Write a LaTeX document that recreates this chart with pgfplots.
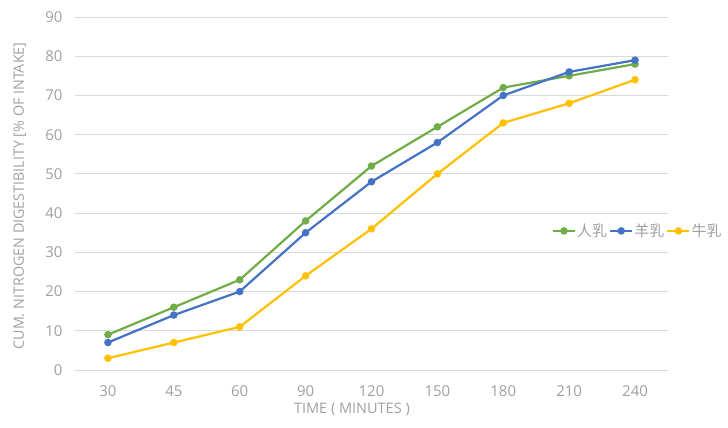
\documentclass[border=0pt]{standalone}
\usepackage{fontspec}
\setmainfont{Open Sans}
\newfontfamily\cjk{Noto Sans CJK SC}
\usepackage{pgfplots}
\pgfplotsset{compat=1.18}
\definecolor{cgreen}{HTML}{70AD47}
\definecolor{cblue}{HTML}{4472C4}
\definecolor{cyellow}{HTML}{FFC000}
\definecolor{cgrid}{HTML}{D9D9D9}
\definecolor{ctext}{HTML}{A0A0A0}
\begin{document}
\begin{tikzpicture}[x=1pt,y=1pt]
\useasboundingbox (0,0) rectangle (728,428);
\begin{axis}[
  at={(75pt,58pt)}, anchor=south west,
  scale only axis, width=593pt, height=353pt,
  xmin=-0.5, xmax=8.5, ymin=0, ymax=90,
  xtick={0,...,8},
  xticklabels={30,45,60,90,120,150,180,210,240},
  ytick={0,10,...,90},
  ymajorgrids, grid style={cgrid, line width=0.8pt},
  axis line style={draw=none},
  axis x line*=bottom, axis y line*=left,
  major tick length=0pt,
  tick style={draw=none},
  /pgf/number format/assume math mode=true,
  ticklabel style={font=\fontsize{15}{17}\selectfont, text=ctext},
  xticklabel style={anchor=center, yshift=-21pt},
  yticklabel style={anchor=east, xshift=-9pt},
  xlabel={TIME ( MINUTES )},
  ylabel={CUM. NITROGEN DIGESTIBILITY [\% OF INTAKE]},
  every axis x label/.style={at={(axis description cs:0.467,-0.113)}, anchor=center,
    font=\fontsize{14.5}{16}\selectfont, text=ctext},
  every axis y label/.style={at={(axis description cs:-0.093,0.493)}, rotate=90, anchor=center,
    font=\fontsize{14.3}{16}\selectfont, text=ctext},
  legend columns=3,
  legend style={at={(axis description cs:0.949,0.394)}, anchor=center, draw=none, fill=white,
    font=\fontsize{15}{17}\selectfont\cjk, text=ctext, column sep=0pt, inner sep=1pt,
    /tikz/every odd column/.style={column sep=-1pt}},
  legend image code/.code={\draw[#1, mark repeat=2, mark phase=2] plot coordinates {(0pt,0pt) (11pt,0pt) (22pt,0pt)};},
  every axis plot/.append style={line width=2.2pt, mark=*, mark size=2.6pt},
]
\draw[cgrid, line width=0.8pt] (axis cs:-0.5,0) -- (axis cs:8.5,0);
\addplot[cgreen] coordinates {(0,9) (1,16) (2,23) (3,38) (4,52) (5,62) (6,72) (7,75) (8,78)};
\addlegendentry{人乳}
\addplot[cblue] coordinates {(0,7) (1,14) (2,20) (3,35) (4,48) (5,58) (6,70) (7,76) (8,79)};
\addlegendentry{羊乳}
\addplot[cyellow] coordinates {(0,3) (1,7) (2,11) (3,24) (4,36) (5,50) (6,63) (7,68) (8,74)};
\addlegendentry{牛乳}
\end{axis}
\end{tikzpicture}
\end{document}
